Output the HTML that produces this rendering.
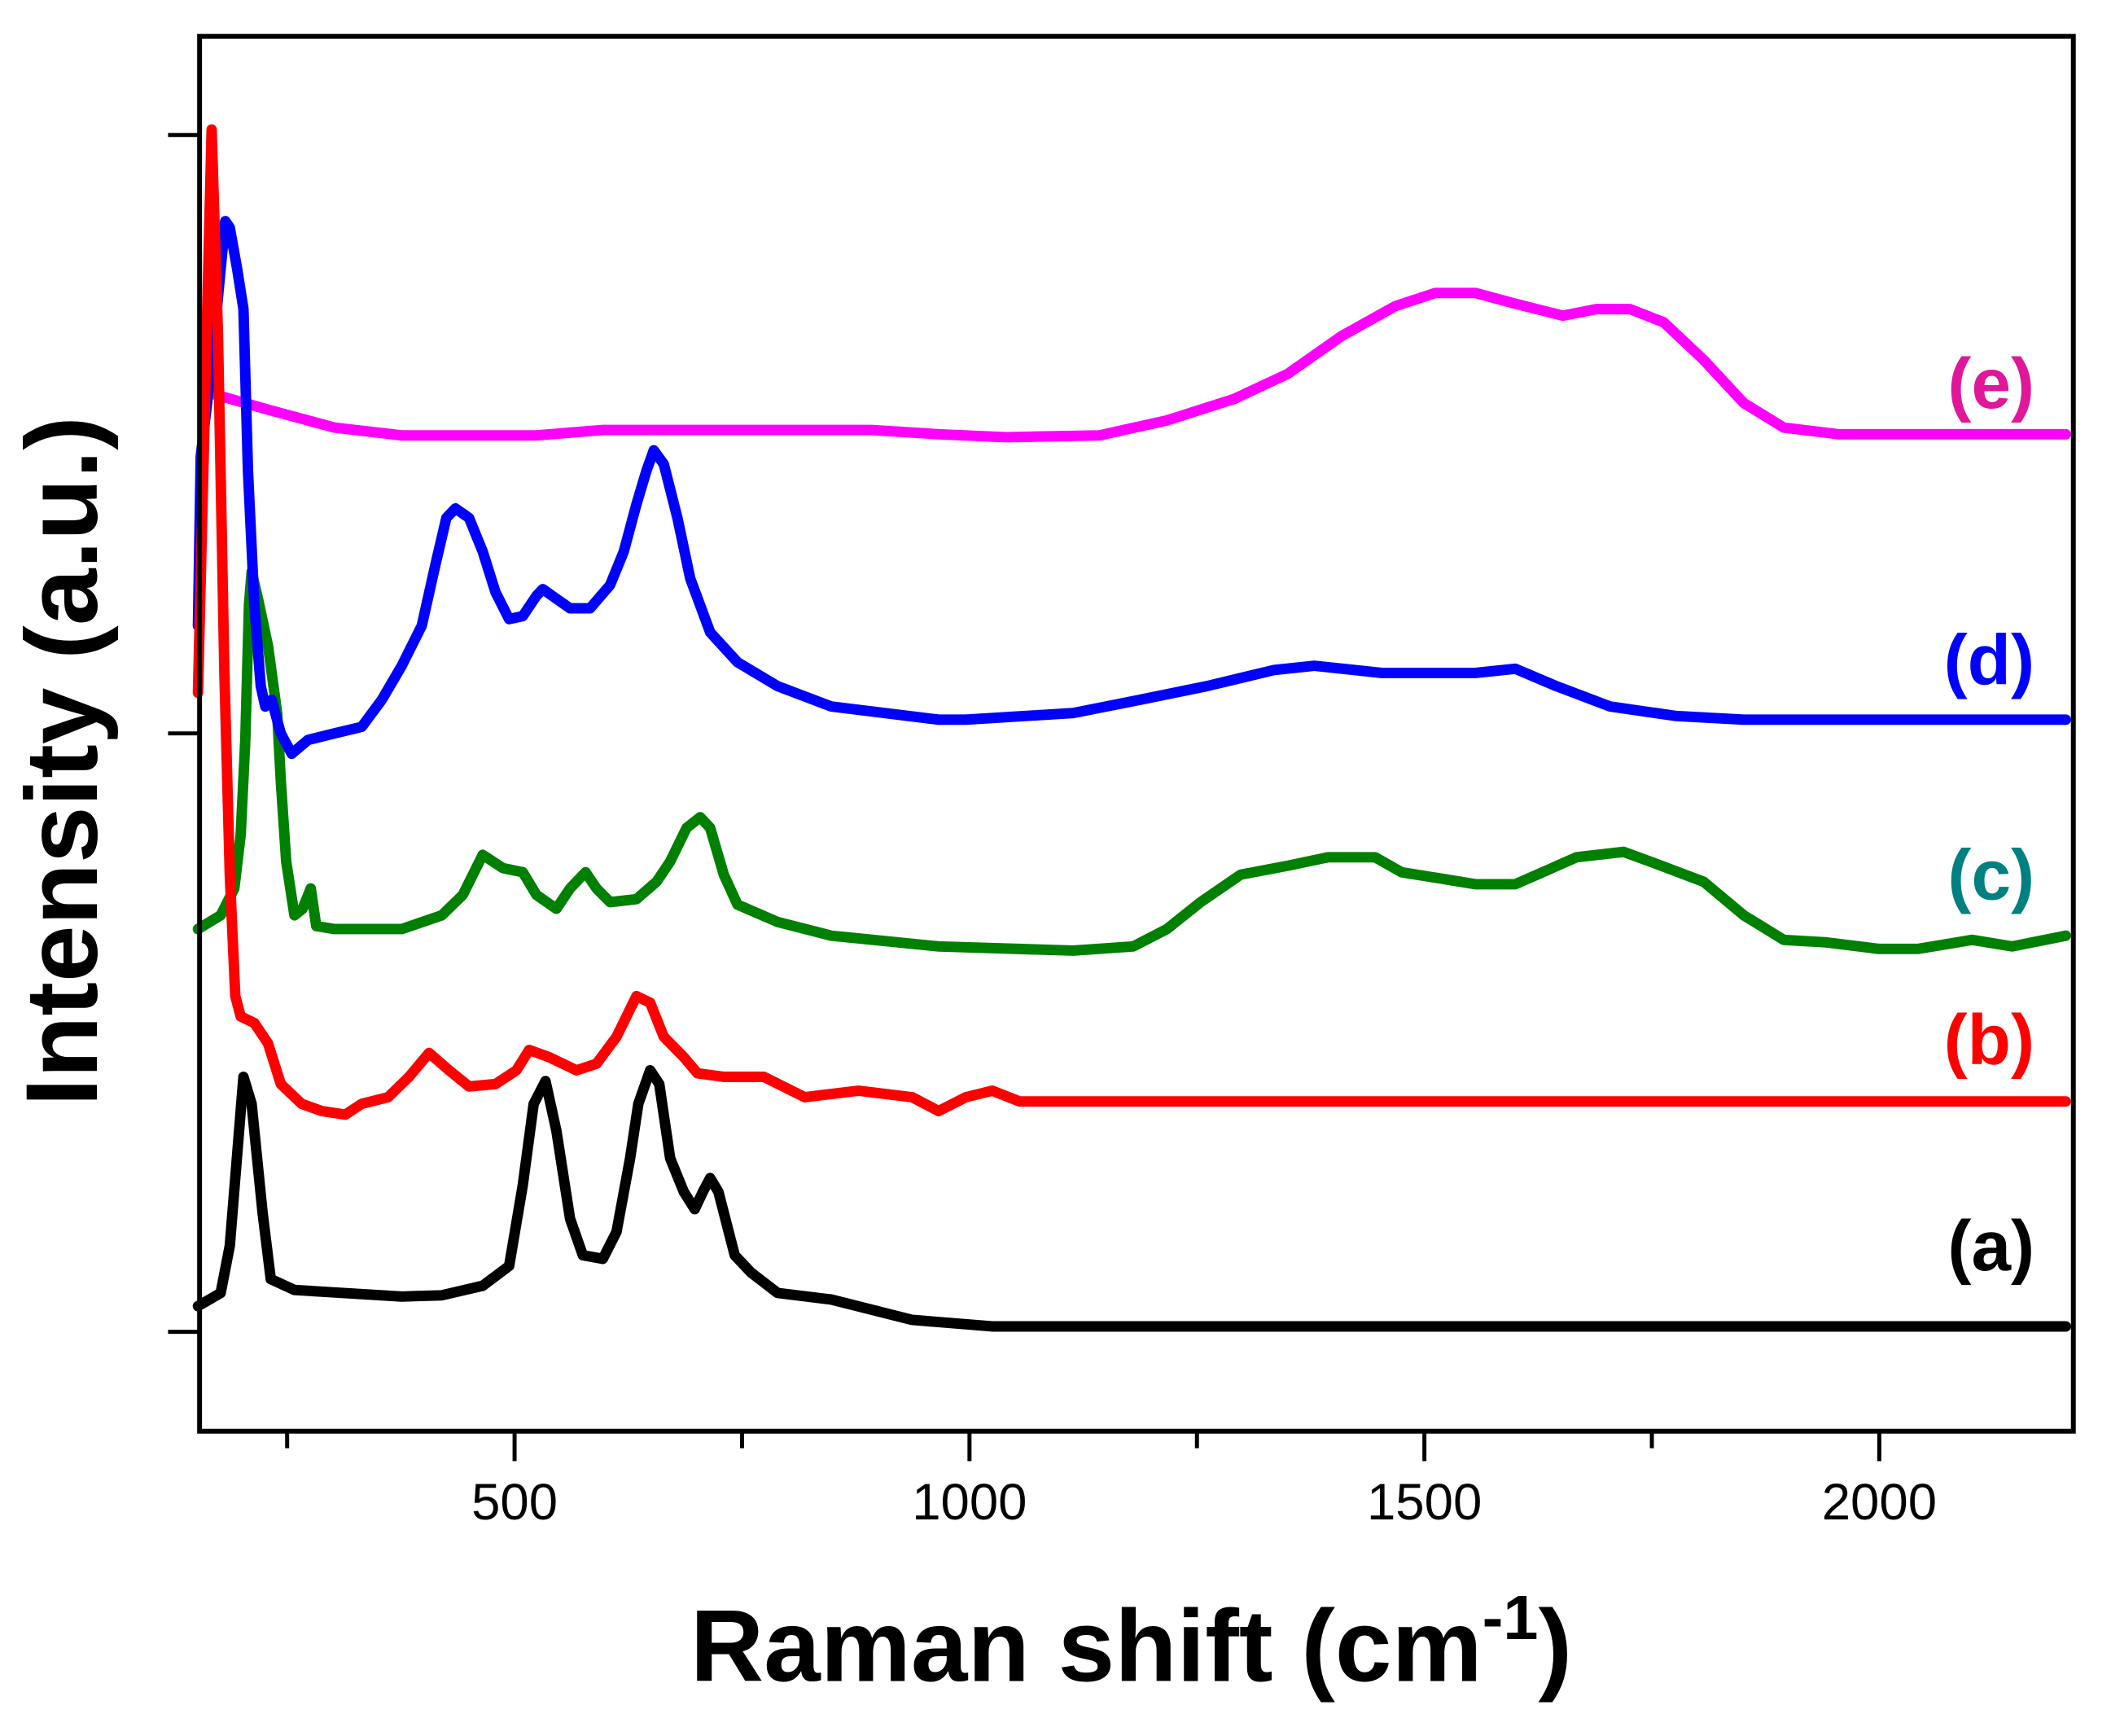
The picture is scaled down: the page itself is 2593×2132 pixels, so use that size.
<!DOCTYPE html>
<html><head><meta charset="utf-8">
<style>
html,body{margin:0;padding:0;background:#fff;}
svg{display:block;}
text{font-family:"Liberation Sans",Arial,sans-serif;}
</style></head>
<body>
<svg id="chart" width="2593" height="2132" viewBox="0 0 2593 2132" xmlns="http://www.w3.org/2000/svg">
<g transform="scale(0.9925)">
<g id="series"></g>
<rect x="247" y="45" width="2319" height="1726" fill="none" stroke="#000" stroke-width="6"/>
<g id="axes"></g>
<text x="1400" y="2080" text-anchor="middle" font-size="126" font-weight="bold">Raman shift (cm<tspan dy="-52" font-size="78">-1</tspan><tspan dy="52">)</tspan></text>
<text transform="translate(120,942) rotate(-90)" text-anchor="middle" font-size="126" font-weight="bold">Intensity (a.u.)</text>
<text x="2518" y="505" text-anchor="end" font-size="88" font-weight="bold" fill="#e0179a">(e)</text>
<text x="2518" y="847" text-anchor="end" font-size="88" font-weight="bold" fill="#0000ff">(d)</text>
<text x="2518" y="1113" text-anchor="end" font-size="88" font-weight="bold" fill="#008080">(c)</text>
<text x="2518" y="1317" text-anchor="end" font-size="88" font-weight="bold" fill="#ff0000">(b)</text>
<text x="2518" y="1572" text-anchor="end" font-size="88" font-weight="bold" fill="#000">(a)</text>
</g>
</svg>
<script>
const xTickValues=[500,1000,1500,2000];
const xMinorTicks=[250,750,1250,1750];
const yTickValues=[0,1,2];
const aX=[152,177,187,202,211,223,232,258,376,420,465,494,509,521,534,546,561,575,597,612,627,636,649,659,671,686,698,707,715,724,742,760,789,848,937,1025,2205];
const aY=[0.043,0.065,0.144,0.426,0.381,0.2,0.088,0.07,0.059,0.061,0.077,0.11,0.245,0.381,0.419,0.336,0.189,0.128,0.122,0.167,0.29,0.381,0.437,0.414,0.29,0.234,0.205,0.234,0.257,0.234,0.128,0.099,0.065,0.054,0.02,0.009,0.009];
const bX=[152,167,174,181,187,193,199,214,229,243,266,288,314,332,361,384,406,428,450,479,502,516,538,568,590,612,634,649,664,686,701,730,774,819,878,937,966,996,1025,1055,2205];
const bY=[1.068,2.009,1.664,1.101,0.764,0.561,0.527,0.516,0.482,0.414,0.381,0.369,0.363,0.381,0.392,0.426,0.466,0.437,0.41,0.414,0.437,0.471,0.459,0.437,0.448,0.493,0.561,0.55,0.493,0.459,0.432,0.426,0.426,0.392,0.403,0.392,0.369,0.392,0.403,0.385,0.385];
const cX=[152,177,192,199,204,208,211,218,229,239,243,249,258,267,276,282,302,376,420,443,465,487,509,524,546,561,578,590,605,634,656,671,689,704,715,730,745,789,848,966,1114,1180,1217,1254,1298,1350,1394,1446,1475,1512,1556,1600,1630,1667,1719,1748,1807,1851,1895,1940,1999,2043,2102,2146,2205];
const cY=[0.673,0.696,0.741,0.831,0.989,1.214,1.27,1.225,1.146,1.034,0.921,0.786,0.696,0.707,0.741,0.678,0.673,0.673,0.696,0.73,0.797,0.775,0.768,0.73,0.707,0.741,0.768,0.741,0.718,0.723,0.752,0.786,0.842,0.86,0.842,0.764,0.714,0.685,0.662,0.644,0.637,0.644,0.673,0.718,0.764,0.779,0.793,0.793,0.768,0.759,0.748,0.748,0.768,0.793,0.802,0.786,0.752,0.696,0.655,0.651,0.64,0.64,0.655,0.644,0.662];
const dX=[152,155,162,170,177,182,187,195,202,207,214,221,226,233,243,255,273,302,332,354,376,398,413,425,435,450,465,479,494,509,524,531,546,561,583,605,620,634,645,653,664,679,693,715,745,789,848,966,996,1114,1187,1261,1335,1379,1453,1556,1600,1645,1704,1777,1851,2205];
const dY=[1.18,1.462,1.552,1.664,1.777,1.856,1.845,1.777,1.709,1.439,1.214,1.079,1.045,1.056,1.0,0.966,0.989,1.0,1.011,1.056,1.113,1.18,1.282,1.36,1.376,1.36,1.304,1.236,1.191,1.196,1.23,1.241,1.225,1.209,1.209,1.248,1.304,1.383,1.439,1.473,1.45,1.36,1.259,1.169,1.119,1.079,1.045,1.023,1.023,1.034,1.056,1.079,1.106,1.113,1.101,1.101,1.108,1.079,1.045,1.029,1.023,1.023];
const eX=[162,229,302,376,524,597,819,892,966,1040,1143,1217,1291,1350,1409,1468,1512,1556,1600,1652,1689,1726,1763,1807,1851,1895,1955,2072,2205];
const eY=[1.57,1.541,1.511,1.498,1.498,1.507,1.507,1.507,1.5,1.495,1.498,1.523,1.559,1.601,1.664,1.714,1.736,1.736,1.718,1.698,1.709,1.709,1.687,1.624,1.552,1.511,1.5,1.5,1.5];

const NS='http://www.w3.org/2000/svg';
function xs(v){return 245+(v-152)*1.126;}
function ys(v){return 1648-v*740.5;}
const seriesG=document.getElementById('series');
const axesG=document.getElementById('axes');
function drawSeries(X,Y,color,name){
  const p=document.createElementNS(NS,'path');
  let d='';
  for(let i=0;i<X.length;i++){d+=(i?'L':'M')+xs(X[i]).toFixed(1)+','+ys(Y[i]).toFixed(1);}
  p.setAttribute('d',d);
  p.setAttribute('fill','none');
  p.setAttribute('stroke',color);
  p.setAttribute('stroke-width','13');
  p.setAttribute('stroke-linejoin','round');
  p.setAttribute('stroke-linecap','round');
  
  
  seriesG.appendChild(p);
}
drawSeries(eX,eY,'#ff00ff','series-e-line');
drawSeries(cX,cY,'#008000','series-c-line');
drawSeries(dX,dY,'#0000ff','series-d-line');
drawSeries(bX,bY,'#ff0000','series-b-line');
drawSeries(aX,aY,'#000000','series-a-line');
function line(x1,y1,x2,y2,name){
  const l=document.createElementNS(NS,'line');
  l.setAttribute('x1',x1);l.setAttribute('y1',y1);l.setAttribute('x2',x2);l.setAttribute('y2',y2);
  l.setAttribute('stroke','#000');l.setAttribute('stroke-width','5');
  
  
  axesG.appendChild(l);
}
xTickValues.forEach(v=>{
  line(xs(v),1771,xs(v),1808,'x-tick-major');
  const t=document.createElementNS(NS,'text');
  t.setAttribute('x',xs(v));t.setAttribute('y',1880);
  t.setAttribute('text-anchor','middle');t.setAttribute('font-size','64');
  t.textContent=v;
  
  
  axesG.appendChild(t);
});
xMinorTicks.forEach(v=>{line(xs(v),1771,xs(v),1792,'x-tick-minor');});
yTickValues.forEach(v=>{line(208,ys(v),247,ys(v),'y-tick-major');});
</script>
</body></html>
